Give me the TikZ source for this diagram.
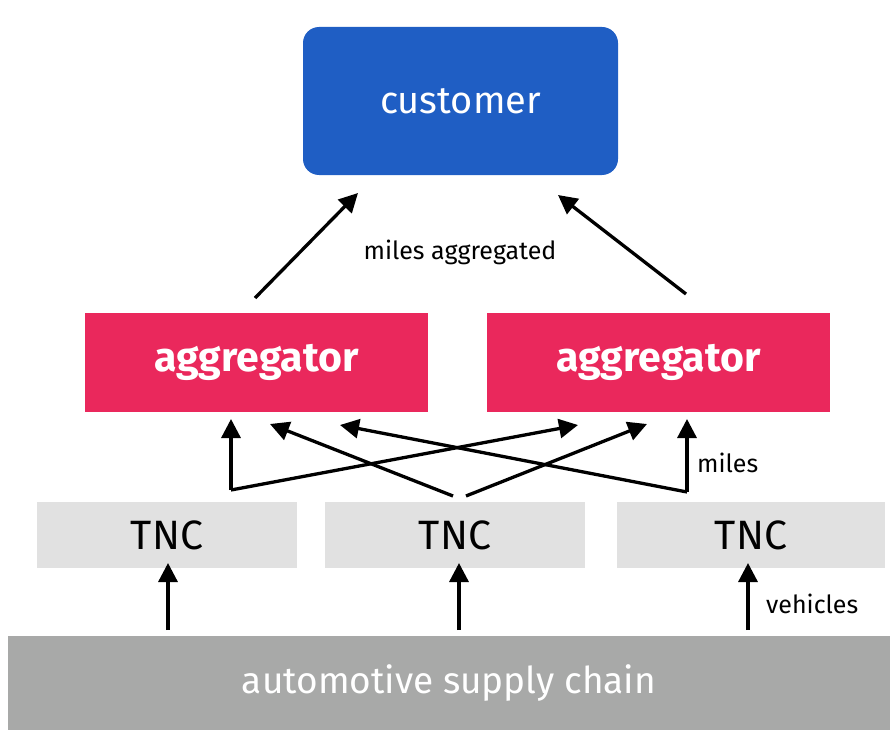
\documentclass[tikz,border=0pt]{standalone}
\usepackage{fontspec}
\setmainfont{Fira Sans}
\usetikzlibrary{arrows.meta}
\definecolor{custblue}{RGB}{31,94,196}
\definecolor{aggpink}{RGB}{234,40,92}
\definecolor{tncgray}{RGB}{225,225,225}
\definecolor{supgray}{RGB}{168,169,168}
\tikzset{
  box/.style={inner sep=0pt, outer sep=0pt, anchor=north west},
  custbox/.style={box, fill=custblue, rounded corners=16pt, text=white, font=\fontsize{38}{42}\selectfont},
  aggbox/.style={box, fill=aggpink, text=white, font=\fontsize{41}{46}\selectfont\bfseries},
  tncbox/.style={box, fill=tncgray, text=black, font=\fontsize{41}{46}\selectfont},
  supbox/.style={box, fill=supgray, text=white, font=\fontsize{37}{42}\selectfont},
  arr/.style={line width=3.3pt, -{Triangle[length=19pt,width=19pt]}},
  lbl/.style={font=\fontsize{25}{30}\selectfont, text=black, inner sep=0pt}
}
\begin{document}
\begin{tikzpicture}[x=1pt,y=-1pt]
\useasboundingbox (0,0) rectangle (890,730);
% boxes
\node[custbox, minimum width=315pt, minimum height=148pt] (cust) at (303,27) {customer};
\node[aggbox, minimum width=343pt, minimum height=99pt] (aggL) at (85,313) {aggregator};
\node[aggbox, minimum width=343pt, minimum height=99pt] (aggR) at (487,313) {aggregator};
\node[tncbox, minimum width=260pt, minimum height=66pt] (tncL) at (37,502) {TNC};
\node[tncbox, minimum width=260pt, minimum height=66pt] (tncM) at (325,502) {TNC};
\node[tncbox, minimum width=268pt, minimum height=66pt] (tncR) at (617,502) {TNC};
\node[supbox, minimum width=882pt, minimum height=94pt] (sup) at (8,636) {automotive supply chain};
% coordinates
\coordinate (aLtop) at (255,298);
\coordinate (aRtop) at (686,294);
\coordinate (cL) at (358,193);
\coordinate (cR) at (558,195);
\coordinate (jL) at (231,490);
\coordinate (jR) at (687,492);
\coordinate (mL) at (453,496);
\coordinate (mR) at (466,496);
\coordinate (tL1) at (231,419);
\coordinate (tL2) at (270,424);
\coordinate (tL3) at (340,425);
\coordinate (tR1) at (578,425);
\coordinate (tR2) at (647,424);
\coordinate (tR3) at (687,419);
% arrows to customer
\draw[arr] (aLtop) -- (cL);
\draw[arr] (aRtop) -- (cR);
\node[lbl] (lma) at (460,252) {miles aggregated};
% TNC to aggregators
\draw[arr] (jL) -- (tL1);
\draw[arr] (jL) -- (tR1);
\draw[arr] (mL) -- (tL2);
\draw[arr] (mR) -- (tR2);
\draw[arr] (jR) -- (tR3);
\draw[arr] (jR) -- (tL3);
\node[lbl, anchor=west] (lmi) at (697,463) {miles};
% supply to TNC
\draw[arr] (sup.north -| 168,0) ++(0,-6) coordinate (s1) -- ([yshift=5pt]tncL.south -| s1);
\draw[arr] (sup.north -| 459,0) ++(0,-6) coordinate (s2) -- ([yshift=5pt]tncM.south -| s2);
\draw[arr] (sup.north -| 748,0) ++(0,-6) coordinate (s3) -- ([yshift=5pt]tncR.south -| s3);
\node[lbl, anchor=west] (lve) at (766,604) {vehicles};
\end{tikzpicture}
\end{document}
